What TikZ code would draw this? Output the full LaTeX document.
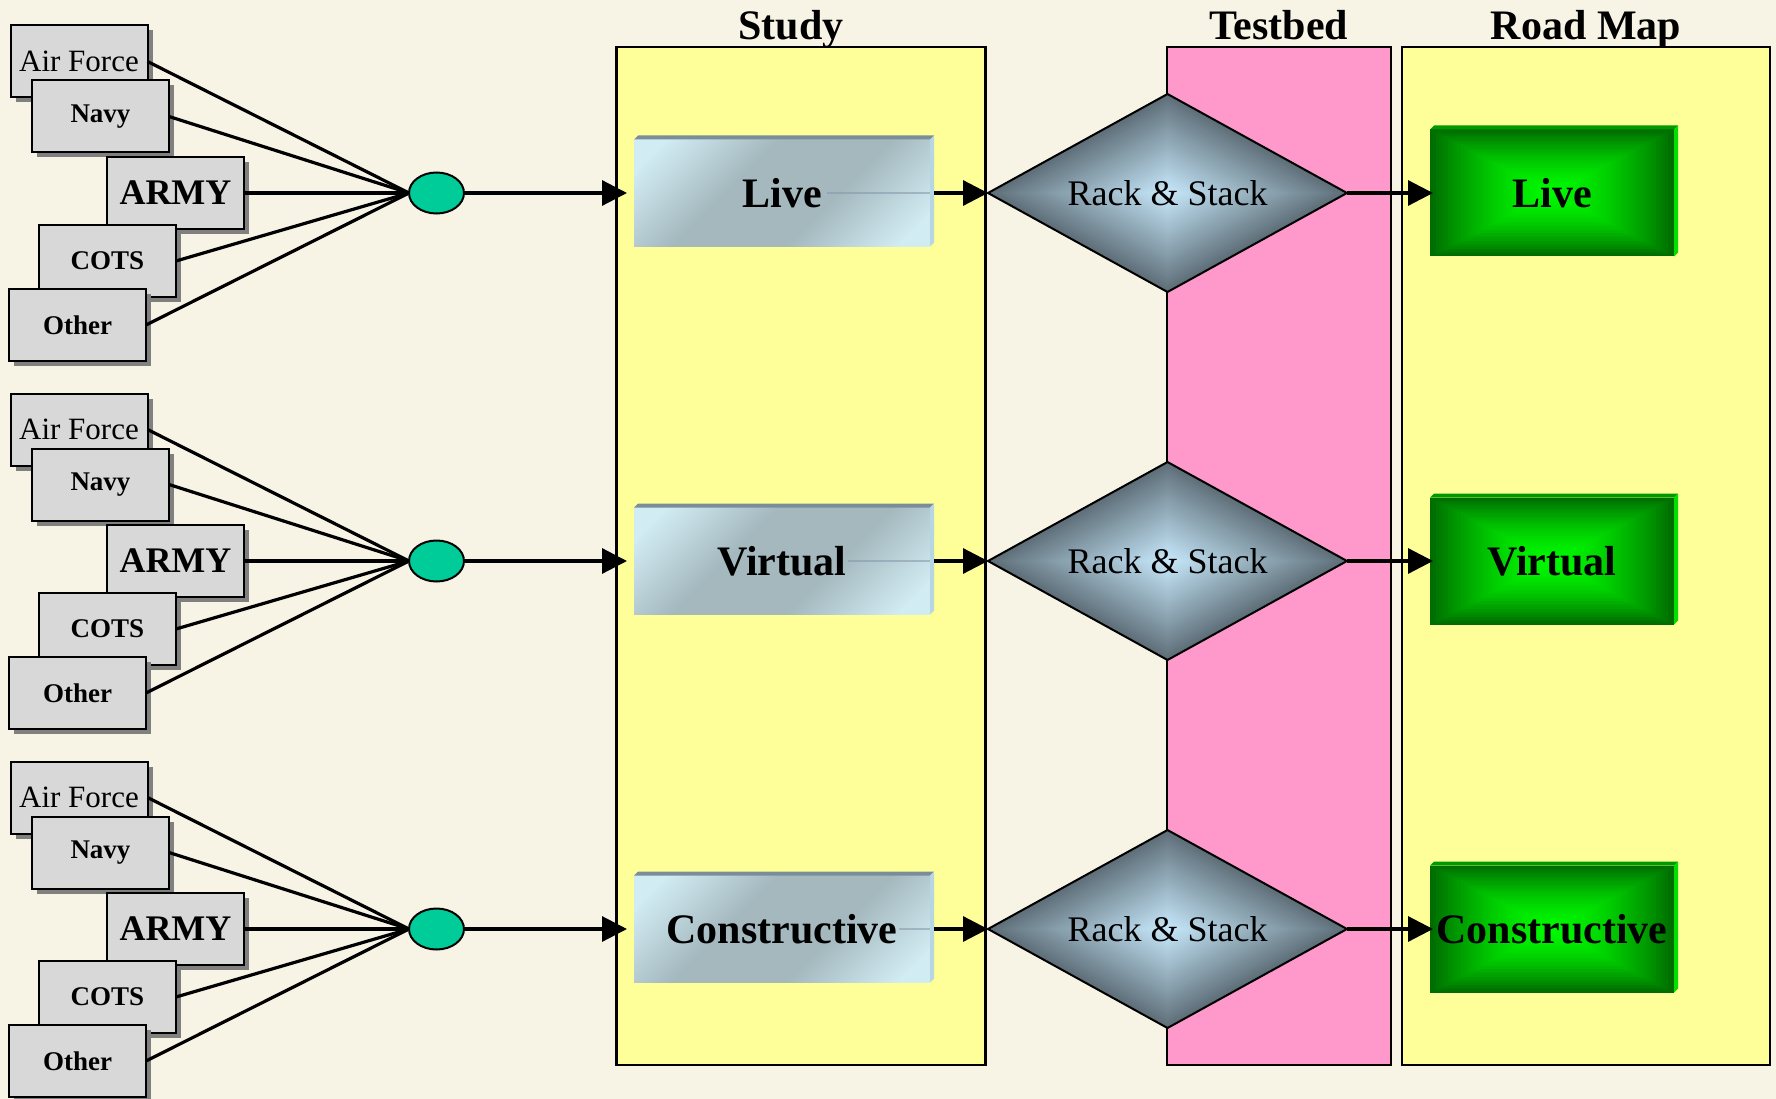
\documentclass[tikz,border=0pt]{standalone}
\usepackage{fontspec}
\setmainfont{Liberation Serif}
\usetikzlibrary{arrows.meta,shapes.geometric,shadows,calc}

\definecolor{bgc}{HTML}{F7F4E6}
\definecolor{ylw}{HTML}{FFFF99}
\definecolor{pnk}{HTML}{FF99CC}
\definecolor{srcgray}{HTML}{D8D8D8}
\definecolor{shgray}{HTML}{808080}
\definecolor{ellfill}{HTML}{00CC99}
\definecolor{stl}{HTML}{D2ECF4}
\definecolor{std}{HTML}{A4B8BE}
\definecolor{stbevtop}{HTML}{7A8E9A}
\definecolor{stbevside}{HTML}{B6D6E2}
\definecolor{dout}{HTML}{5E6E78}
\definecolor{dcen}{HTML}{C8EAFC}
\definecolor{gout}{HTML}{006C00}
\definecolor{gcen}{HTML}{00F800}
\definecolor{gbevtop}{HTML}{009A00}
\definecolor{gbevside}{HTML}{00E000}
\definecolor{artc}{HTML}{8496A8}

\pgfdeclareverticalshading{studyshade}{100bp}{color(0bp)=(stl); color(20bp)=(stl); color(40bp)=(std); color(60bp)=(std); color(80bp)=(stl); color(100bp)=(stl)}

\begin{document}
\begin{tikzpicture}[x=1pt,y=-1pt,
  colbox/.style={draw, line width=2.5pt, minimum width=369pt, minimum height=1018pt, inner sep=0pt, outer sep=0pt},
  coltitle/.style={anchor=base, font=\fontsize{42}{50}\selectfont\bfseries, inner sep=0pt},
  src/.style={draw, line width=2pt, fill=srcgray, minimum width=137pt, minimum height=72pt, inner sep=0pt, outer sep=0pt,
    drop shadow={shadow xshift=5pt, shadow yshift=-5pt, fill=shgray, opacity=1}},
  srcb/.style={src, font=\fontsize{27}{32}\selectfont\bfseries},
  joint/.style={ellipse, draw, line width=2pt, fill=ellfill, minimum width=55pt, minimum height=41pt, inner sep=0pt, outer sep=0pt},
  conn/.style={line width=3.2pt},
  arr/.style={line width=3.2pt, -{Triangle[length=25pt,width=25pt]}},
  studybox/.style={minimum width=296pt, minimum height=107pt, inner sep=0pt, outer sep=0pt,
    shading=studyshade, shading angle=45,
    font=\fontsize{42}{50}\selectfont\bfseries},
  rackbox/.style={diamond, aspect=1.8, minimum width=359pt, minimum height=198pt, inner sep=0pt, outer sep=0pt,
    font=\fontsize{36}{43}\selectfont,
    path picture={
      \foreach \i in {0,...,39}{
        \pgfmathsetmacro\t{1-\i/40}
        \pgfmathsetmacro\p{100*(\i/40)^0.95}
        \fill[dcen!\p!dout] ($(path picture bounding box.center)!\t!(path picture bounding box.east)$)
          -- ($(path picture bounding box.center)!\t!(path picture bounding box.north)$)
          -- ($(path picture bounding box.center)!\t!(path picture bounding box.west)$)
          -- ($(path picture bounding box.center)!\t!(path picture bounding box.south)$) -- cycle;
      }}},
  mapbox/.style={minimum width=244pt, minimum height=127pt, inner sep=0pt, outer sep=0pt,
    font=\fontsize{42}{50}\selectfont\bfseries,
    path picture={
      \foreach \i in {0,...,39}{
        \pgfmathsetmacro\t{1-\i/40}
        \pgfmathsetmacro\p{100*(1-(1-\i/40)^1.6)}
        \fill[gcen!\p!gout] ($(path picture bounding box.center)!\t!(path picture bounding box.south west)$)
          rectangle ($(path picture bounding box.center)!\t!(path picture bounding box.north east)$);
      }}}
]
\useasboundingbox (0,0) rectangle (1776,1099);
\fill[bgc] (0,0) rectangle (1776,1099);

% columns
\node[colbox, fill=ylw] (study) at (801,556) {};
\node[colbox, fill=pnk, minimum width=224pt] (testbed) at (1279,556) {};
\node[colbox, fill=ylw, minimum width=368pt] (roadmap) at (1586,556) {};
\node[coltitle] (tstudy) at (791,40) {Study};
\node[coltitle] (ttestbed) at (1279,40) {Testbed};
\node[coltitle] (troadmap) at (1586,40) {Road Map};

% source groups
\foreach \k in {0,1,2}{
  \pgfmathsetmacro\dy{368*\k}
  \node[src, font=\fontsize{31}{37}\selectfont] (af\k) at (79,61.5+\dy) {Air Force};
  \node[srcb] (navy\k) at (100.5,116.5+\dy) {Navy};
  \node[src, font=\fontsize{36}{43}\selectfont\bfseries] (army\k) at (175.5,193+\dy) {ARMY};
  \node[srcb] (cots\k) at (107.5,261+\dy) {COTS};
  \node[srcb] (other\k) at (77.5,325+\dy) {Other};
  \node[joint] (e\k) at (436.5,193+\dy) {};
  \draw[conn] (af\k.east) -- (e\k.west);
  \draw[conn] (navy\k.east) -- (e\k.west);
  \draw[conn] (army\k.east) -- (e\k.west);
  \draw[conn] (cots\k.east) -- (e\k.west);
  \draw[conn] (other\k.east) -- (e\k.west);
}

% rows
\foreach \k/\lab/\art in {0/Live/103,1/Virtual/82,2/Constructive/31}{
  \pgfmathsetmacro\dy{368*\k}
  % study box
  \node[studybox] (s\k) at (782,193+\dy) {\lab};
  \fill[stbevtop] (s\k.north west) -- ($(s\k.north west)+(4,-4)$) -- ($(s\k.north east)+(4,-4)$) -- (s\k.north east) -- cycle;
  \fill[stbevside] (s\k.north east) -- ($(s\k.north east)+(4,-4)$) -- ($(s\k.south east)+(4,-4)$) -- (s\k.south east) -- cycle;
  \draw[artc, line width=2pt, opacity=0.55] ($(s\k.east)+(-\art,0)$) -- (s\k.east);
  % testbed diamond
  \node[rackbox] (d\k) at (1167.5,193+\dy) {Rack \& Stack};
  \draw[line width=2pt] (d\k.east) -- (d\k.north) -- (d\k.west) -- (d\k.south) -- cycle;
  % road map box
  \node[mapbox] (g\k) at (1552,193+\dy) {\lab};
  \fill[gbevtop] (g\k.north west) -- ($(g\k.north west)+(4,-4)$) -- ($(g\k.north east)+(4,-4)$) -- (g\k.north east) -- cycle;
  \fill[gbevside] (g\k.north east) -- ($(g\k.north east)+(4,-4)$) -- ($(g\k.south east)+(4,-4)$) -- (g\k.south east) -- cycle;
  % arrows
  \draw[arr] (e\k.east) -- ($(s\k.west)+(-7,0)$);
  \draw[arr] ($(s\k.east)+(4,0)$) -- (d\k.west);
  \draw[arr] (d\k.east) -- ($(g\k.west)+(3,0)$);
}
\end{tikzpicture}
\end{document}
